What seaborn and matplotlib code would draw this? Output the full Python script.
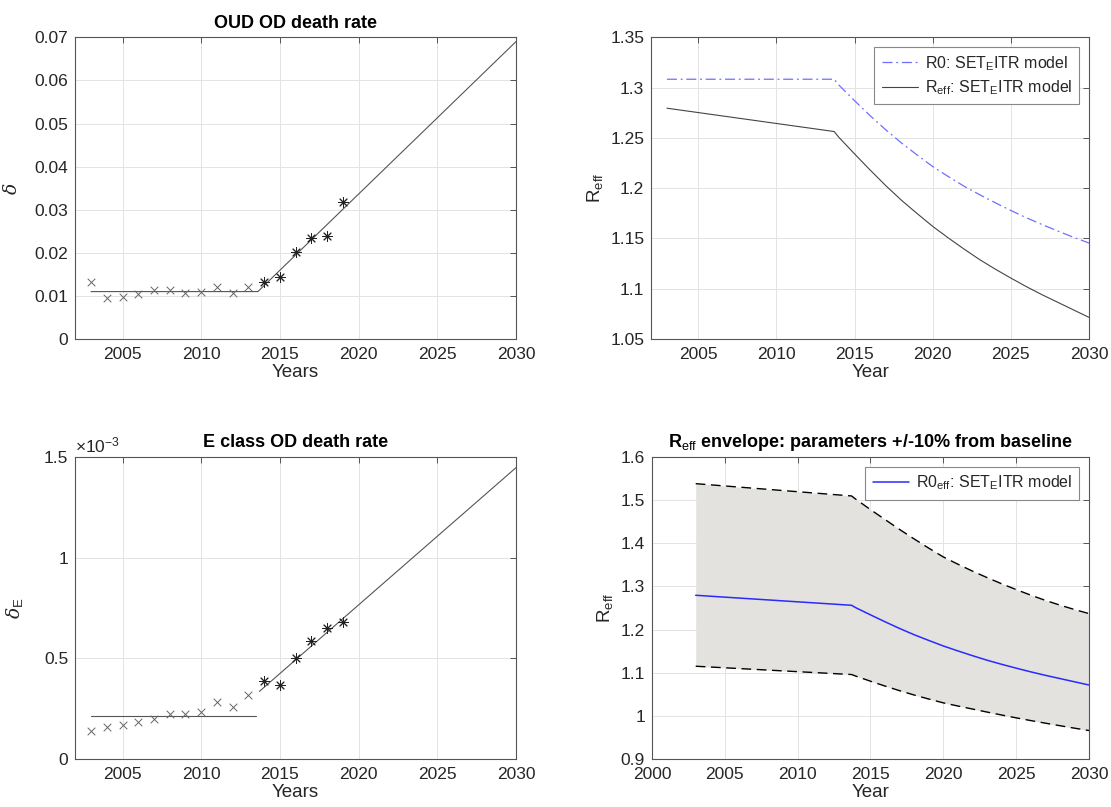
import numpy as np
import pandas as pd
import matplotlib
matplotlib.use("Agg")
import matplotlib.pyplot as plt
import seaborn as sns
from matplotlib.ticker import FuncFormatter

# ---------------- data ----------------
obs_years_a = [2003, 2004, 2005, 2006, 2007, 2008, 2009, 2010, 2011, 2012, 2013]
obs_years_b = [2014, 2015, 2016, 2017, 2018, 2019]

delta_a = [0.0132, 0.0095, 0.0098, 0.01035, 0.0113, 0.01144, 0.0107, 0.0108, 0.01206, 0.0107, 0.01206]
delta_b = [0.01315, 0.0144, 0.0203, 0.02335, 0.0240, 0.0318]
delta_fit_years = [2003, 2013.6, 2030]
delta_fit = [0.0110, 0.0110, 0.0690]

# E class values in units of 1e-3
deltaE_a = [0.141, 0.161, 0.169, 0.184, 0.199, 0.224, 0.224, 0.234, 0.282, 0.256, 0.316]
deltaE_b = [0.385, 0.367, 0.500, 0.587, 0.650, 0.678]
deltaE_fit1_years = [2003, 2013.5]
deltaE_fit1 = [0.216, 0.216]
deltaE_fit2_years = [2013.7, 2030]
deltaE_fit2 = [0.336, 1.447]

curve_years = [2003, 2013.7, 2014, 2015, 2016, 2017, 2018, 2019, 2020, 2021, 2022,
               2023, 2024, 2025, 2026, 2027, 2028, 2029, 2030]
R0 = [1.3083, 1.3083, 1.3025, 1.287, 1.272, 1.258, 1.245, 1.233, 1.2215, 1.2115, 1.202,
      1.1935, 1.1855, 1.1778, 1.1705, 1.1638, 1.1574, 1.1512, 1.1454]
Reff = [1.2795, 1.2563, 1.2505, 1.2341, 1.218, 1.2025, 1.188, 1.1748, 1.162, 1.1505, 1.1395,
        1.129, 1.1195, 1.1106, 1.102, 1.094, 1.0865, 1.079, 1.0715]
Reff_upper = [1.5382, 1.5097, 1.502, 1.478, 1.455, 1.432, 1.410, 1.3887, 1.3683, 1.3515, 1.3355,
              1.3205, 1.3062, 1.2927, 1.2798, 1.2677, 1.2567, 1.2465, 1.237]
Reff_lower = [1.115, 1.0958, 1.092, 1.0803, 1.069, 1.0583, 1.0483, 1.039, 1.0301, 1.0228, 1.0158,
              1.0088, 1.002, 0.9954, 0.9891, 0.9831, 0.9772, 0.9715, 0.966]

# ---------------- style ----------------
sns.set_style("white")
plt.rcParams['font.family'] = ['Liberation Sans', 'DejaVu Sans']
plt.rcParams['mathtext.fontset'] = 'custom'
plt.rcParams['mathtext.rm'] = 'Liberation Sans'
plt.rcParams['mathtext.it'] = 'Liberation Sans:italic'
plt.rcParams['mathtext.bf'] = 'Liberation Sans:bold'

TICK_FS = 12.5
LABEL_FS = 13.5
TITLE_FS = 13
LEG_FS = 11.5
SPINE = '#555555'
TXT = '#262626'
GRID = '#e3e3e3'

fig = plt.figure(figsize=(11.11, 8.07), dpi=100)
W, H = 1111.0, 807.0


def make_ax(left, right, top, bottom):
    return fig.add_axes([left / W, 1 - bottom / H, (right - left) / W, (bottom - top) / H])


ax1 = make_ax(75.3, 516, 37.3, 339)
ax2 = make_ax(651.3, 1089, 37.3, 339)
ax3 = make_ax(75.3, 516, 457, 759)
ax4 = make_ax(652, 1089, 457, 759)

gfmt = FuncFormatter(lambda v, p: ('%g' % round(v, 6)))


def style_ax(ax):
    ax.grid(True, color=GRID, linewidth=0.7)
    ax.set_axisbelow(True)
    for s in ax.spines.values():
        s.set_color(SPINE)
        s.set_linewidth(0.8)
        s.set_visible(True)
    ax.tick_params(direction='in', top=True, right=True, length=4, width=0.7,
                   colors=SPINE, labelcolor=TXT, labelsize=TICK_FS)
    ax.tick_params(axis='x', pad=6)
    ax.tick_params(axis='y', pad=5)
    ax.yaxis.set_major_formatter(gfmt)
    ax.xaxis.set_major_formatter(gfmt)


def legend(ax):
    lg = ax.legend(loc='upper right', fontsize=LEG_FS, frameon=True, fancybox=False,
                   edgecolor='#888888', framealpha=1, borderaxespad=0.6,
                   handlelength=2.3, handletextpad=0.4, borderpad=0.45, labelspacing=0.35)
    lg.get_frame().set_linewidth(0.8)
    return lg


# ---------- panel 1: OUD OD death rate ----------
df_a = pd.DataFrame({'year': obs_years_a, 'v': delta_a})
df_b = pd.DataFrame({'year': obs_years_b, 'v': delta_b})
df_fit = pd.DataFrame({'year': delta_fit_years, 'v': delta_fit})
sns.lineplot(data=df_fit, x='year', y='v', ax=ax1, color='#555555', linewidth=0.8,
             estimator=None, sort=False)
sns.scatterplot(data=df_a, x='year', y='v', ax=ax1, marker='x', color='#666666',
                s=30, linewidth=0.7, zorder=3)
sns.scatterplot(data=df_b, x='year', y='v', ax=ax1, marker=(8, 2, 0), color='#222222',
                s=50, linewidth=0.7, zorder=3)
ax1.set_xlim(2002, 2030)
ax1.set_ylim(0, 0.07)
ax1.set_xticks([2005, 2010, 2015, 2020, 2025, 2030])
ax1.set_yticks(np.arange(0, 0.0701, 0.01))
style_ax(ax1)
ax1.set_title('OUD OD death rate', fontsize=TITLE_FS, fontweight='bold', color='black', pad=7)
ax1.set_xlabel('Years', fontsize=LABEL_FS, color=TXT, labelpad=1)
ax1.set_ylabel('δ', fontsize=LABEL_FS, color=TXT, family='DejaVu Serif', style='italic',
               labelpad=10)

# ---------- panel 2: R0 / Reff ----------
df_r0 = pd.DataFrame({'year': curve_years, 'v': R0})
df_re = pd.DataFrame({'year': curve_years, 'v': Reff})
sns.lineplot(data=df_r0, x='year', y='v', ax=ax2, color='#6f6fff', linewidth=0.9,
             linestyle=(0, (8, 3, 1.5, 3)), estimator=None, sort=False,
             label='R0: SET$_{\\rm E}$ITR model')
sns.lineplot(data=df_re, x='year', y='v', ax=ax2, color='#444444', linewidth=0.8,
             estimator=None, sort=False,
             label='R$_{\\rm eff}$: SET$_{\\rm E}$ITR model')
ax2.set_xlim(2002, 2030)
ax2.set_ylim(1.05, 1.35)
ax2.set_xticks([2005, 2010, 2015, 2020, 2025, 2030])
ax2.set_yticks(np.arange(1.05, 1.3501, 0.05))
style_ax(ax2)
ax2.set_xlabel('Year', fontsize=LABEL_FS, color=TXT, labelpad=1)
ax2.set_ylabel('R$_{\\rm eff}$', fontsize=LABEL_FS, color=TXT, labelpad=4)
legend(ax2)

# ---------- panel 3: E class OD death rate ----------
dfe_a = pd.DataFrame({'year': obs_years_a, 'v': deltaE_a})
dfe_b = pd.DataFrame({'year': obs_years_b, 'v': deltaE_b})
dfe_f1 = pd.DataFrame({'year': deltaE_fit1_years, 'v': deltaE_fit1})
dfe_f2 = pd.DataFrame({'year': deltaE_fit2_years, 'v': deltaE_fit2})
sns.lineplot(data=dfe_f1, x='year', y='v', ax=ax3, color='#555555', linewidth=0.8,
             estimator=None, sort=False)
sns.lineplot(data=dfe_f2, x='year', y='v', ax=ax3, color='#555555', linewidth=0.8,
             estimator=None, sort=False)
sns.scatterplot(data=dfe_a, x='year', y='v', ax=ax3, marker='x', color='#666666',
                s=30, linewidth=0.7, zorder=3)
sns.scatterplot(data=dfe_b, x='year', y='v', ax=ax3, marker=(8, 2, 0), color='#222222',
                s=50, linewidth=0.7, zorder=3)
ax3.set_xlim(2002, 2030)
ax3.set_ylim(0, 1.5)
ax3.set_xticks([2005, 2010, 2015, 2020, 2025, 2030])
ax3.set_yticks([0, 0.5, 1, 1.5])
style_ax(ax3)
ax3.set_title('E class OD death rate', fontsize=TITLE_FS, fontweight='bold', color='black', pad=7)
ax3.set_xlabel('Years', fontsize=LABEL_FS, color=TXT, labelpad=1)
ax3.set_ylabel('δ$_{\\rm E}$', fontsize=LABEL_FS, color=TXT, family='DejaVu Serif',
               style='italic', labelpad=14)
ax3.text(0.0, 1.005, '×10$^{-3}$', transform=ax3.transAxes, ha='left', va='bottom',
         fontsize=TICK_FS, color=TXT)

# ---------- panel 4: envelope ----------
df_env = pd.DataFrame({'year': curve_years, 'up': Reff_upper, 'lo': Reff_lower, 'mid': Reff})
ax4.fill_between(df_env['year'], df_env['lo'], df_env['up'], color='#e3e2de', linewidth=0)
sns.lineplot(data=df_env, x='year', y='up', ax=ax4, color='black', linewidth=1.0,
             linestyle=(0, (7, 4)), estimator=None, sort=False)
sns.lineplot(data=df_env, x='year', y='lo', ax=ax4, color='black', linewidth=1.0,
             linestyle=(0, (7, 4)), estimator=None, sort=False)
sns.lineplot(data=df_env, x='year', y='mid', ax=ax4, color='#2a2aff', linewidth=1.1,
             estimator=None, sort=False,
             label='R0$_{\\rm eff}$: SET$_{\\rm E}$ITR model')
ax4.set_xlim(2000, 2030)
ax4.set_ylim(0.9, 1.6)
ax4.set_xticks([2000, 2005, 2010, 2015, 2020, 2025, 2030])
ax4.set_yticks(np.arange(0.9, 1.6001, 0.1))
style_ax(ax4)
ax4.set_title('R$_{\\rm eff}$ envelope: parameters +/-10% from baseline', fontsize=TITLE_FS,
              fontweight='bold', color='black', pad=7)
ax4.set_xlabel('Year', fontsize=LABEL_FS, color=TXT, labelpad=1)
ax4.set_ylabel('R$_{\\rm eff}$', fontsize=LABEL_FS, color=TXT, labelpad=4)
legend(ax4)

fig.savefig('out.png', dpi=100)
